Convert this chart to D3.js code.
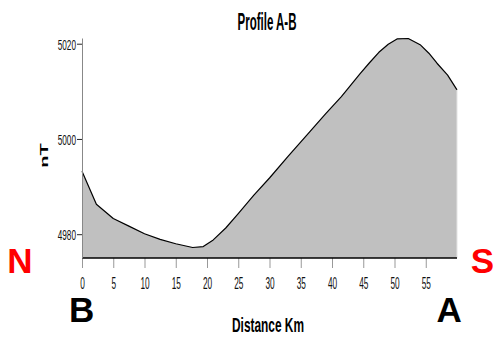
<!DOCTYPE html>
<html>
<head>
<meta charset="utf-8">
<script src="https://cdn.jsdelivr.net/npm/d3@7"></script>
<style>
  html, body { margin: 0; padding: 0; background: #fff; }
  svg { display: block; font-family: "Liberation Sans", Arial, sans-serif; }
</style>
</head>
<body>
<svg id="chart" width="494" height="339"></svg>
<script>
// Magnetic profile A-B: total field (nT) against distance along the line (km)
const distanceKm = [0, 2.3, 5, 7.5, 10, 12.5, 15, 17.7, 19.4, 21, 23, 25, 27.5, 30, 33, 36.5, 39, 41.5, 43, 44.5, 46, 47.5, 49, 50.4, 52.2, 54.1, 55.5, 56.8, 58.5, 60];
const fieldNT   = [4993.2, 4986.3, 4983.3, 4981.7, 4980.1, 4978.9, 4978.0, 4977.2, 4977.4, 4978.8, 4981.3, 4984.3, 4988.2, 4991.8, 4996.4, 5001.6, 5005.3, 5008.9, 5011.3, 5013.7, 5016.0, 5018.2, 5019.9, 5021.0, 5021.1, 5019.8, 5018.0, 5015.9, 5013.4, 5010.3];
const xTicks = [0, 5, 10, 15, 20, 25, 30, 35, 40, 45, 50, 55];
const yTicks = [4980, 5000, 5020];
const xDomain = [0, 60];
const yDomain = [4975, 5021.2];

const svg = d3.select("#chart");
const margin = { top: 38, right: 37, bottom: 81, left: 82 };
const W = 494, H = 339;

const x = d3.scaleLinear().domain(xDomain).range([margin.left, W - margin.right]);
const y = d3.scaleLinear().domain(yDomain).range([H - margin.bottom, margin.top]);

const points = distanceKm.map((d, i) => [d, fieldNT[i]]);

// shaded profile
svg.append("path")
  .datum(points)
  .attr("fill", "#c0c0c0")
  .attr("stroke", "none")
  .attr("d", d3.area().x(d => x(d[0])).y0(y(yDomain[0])).y1(d => y(d[1])));

svg.append("path")
  .datum(points)
  .attr("fill", "none")
  .attr("stroke", "#000")
  .attr("stroke-width", 1.2)
  .attr("stroke-linejoin", "round")
  .attr("d", d3.line().x(d => x(d[0])).y(d => y(d[1])));

// right edge of the shading
svg.append("line")
  .attr("x1", x(xDomain[1])).attr("x2", x(xDomain[1]))
  .attr("y1", y(fieldNT[fieldNT.length - 1])).attr("y2", y(yDomain[0]))
  .attr("stroke", "#e4e4e4").attr("stroke-width", 1);

// condensed text: width fixed via textLength
function label(g, txt, len) {
  g.text(txt);
  if (len) g.attr("textLength", len).attr("lengthAdjust", "spacingAndGlyphs");
  return g;
}

// x axis
const xAxis = svg.append("g")
  .attr("transform", `translate(0,${y(yDomain[0])})`)
  .call(d3.axisBottom(x).tickValues(xTicks).tickSize(10).tickSizeOuter(0).tickFormat(d3.format("d")));
xAxis.select(".domain").remove();
xAxis.selectAll(".tick line").attr("stroke", "#999").attr("stroke-width", 1);
xAxis.selectAll(".tick text")
  .attr("font-size", 16)
  .attr("dy", null)
  .attr("y", 30.5)
  .attr("fill", "#111")
  .attr("font-family", "'Liberation Sans', Arial, sans-serif")
  .each(function(d) {
    const s = String(d);
    d3.select(this).attr("textLength", s.length * 4.6).attr("lengthAdjust", "spacingAndGlyphs");
  });
svg.append("line")
  .attr("x1", x(xDomain[0])).attr("x2", x(xDomain[1]))
  .attr("y1", y(yDomain[0])).attr("y2", y(yDomain[0]))
  .attr("stroke", "#000").attr("stroke-width", 1.5);

// y axis
const yAxis = svg.append("g")
  .attr("transform", `translate(${x(xDomain[0])},0)`)
  .call(d3.axisLeft(y).tickValues(yTicks).tickSize(5).tickSizeOuter(0).tickFormat(d3.format("d")));
yAxis.select(".domain").attr("stroke", "#888").attr("stroke-width", 1);
yAxis.selectAll(".tick line").attr("stroke", "#222").attr("stroke-width", 1);
yAxis.selectAll(".tick text")
  .attr("font-size", 15.5)
  .attr("x", -6)
  .attr("dy", "0.36em")
  .attr("fill", "#111")
  .attr("font-family", "'Liberation Sans', Arial, sans-serif")
  .attr("textLength", 18.3).attr("lengthAdjust", "spacingAndGlyphs");

// title and axis titles
label(svg.append("text")
  .attr("x", 267).attr("y", 30)
  .attr("text-anchor", "middle")
  .attr("font-weight", "bold").attr("font-size", 24.5), "Profile A-B", 59);

label(svg.append("text")
  .attr("x", 268).attr("y", 331.5)
  .attr("text-anchor", "middle")
  .attr("font-weight", "bold").attr("font-size", 21), "Distance Km", 72);

svg.append("text")
  .attr("transform", "translate(48.3,155.5) rotate(-90) scale(1,0.58)")
  .attr("text-anchor", "middle")
  .attr("font-weight", "bold").attr("font-size", 20)
  .text("nT");

// direction and end-point markers
const marks = [
  { t: "N", x: 20, y: 273.3, c: "#ff0000" },
  { t: "S", x: 482.5, y: 273.3, c: "#ff0000" },
  { t: "B", x: 81.7, y: 321.7, c: "#000" },
  { t: "A", x: 449.2, y: 321.7, c: "#000" }
];
svg.selectAll("text.mark")
  .data(marks)
  .join("text")
  .attr("class", "mark")
  .attr("x", d => d.x).attr("y", d => d.y)
  .attr("text-anchor", "middle")
  .attr("font-weight", "bold").attr("font-size", 35)
  .attr("fill", d => d.c)
  .text(d => d.t);
</script>
</body>
</html>
